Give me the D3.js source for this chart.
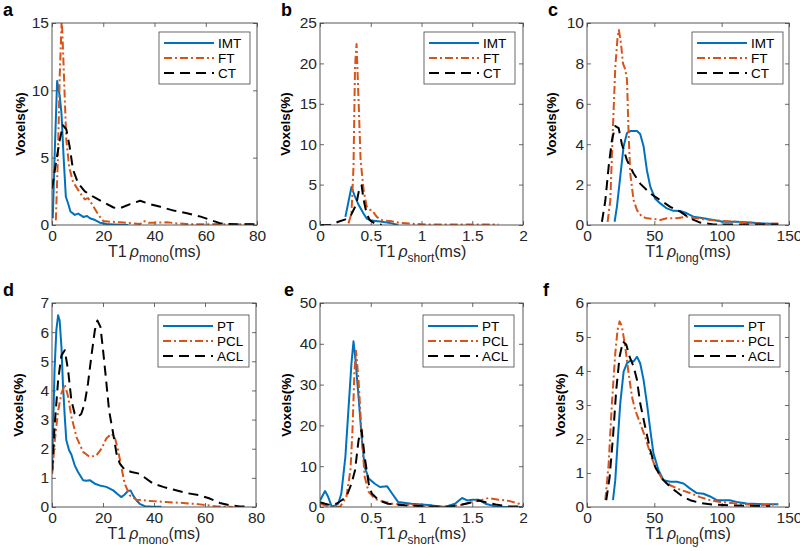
<!DOCTYPE html>
<html><head><meta charset="utf-8">
<script src="https://cdn.jsdelivr.net/npm/d3@7"></script>
<style>
body{margin:0;background:#fff;}
svg{display:block;font-family:"Liberation Sans",Arial,sans-serif;}
</style></head>
<body><svg id="c" width="800" height="551"></svg>
<script>
// ---------------- DATA ----------------
const legendTop = ["IMT", "FT", "CT"];
const legendBottom = ["PT", "PCL", "ACL"];
const xTicksMono = [0, 20, 40, 60, 80];
const xTicksShort = [0, 0.5, 1, 1.5, 2];
const xTicksLong = [0, 50, 100, 150];

// panel a : T1rho mono (IMT / FT / CT)
const aIMT = [[0.3,0.5],[1,5],[2,10.7],[3,9.6],[3.7,8.3],[4.6,4.8],[5.4,2.1],[6.3,1.6],[7.2,1.0],[8.9,0.75],[10.2,0.85],[12.2,0.6],[13.7,0.67],[14.8,0.5],[16.8,0.37],[18.7,0.17],[21.3,0.07],[24,0.04],[29.8,0]];
const aFT = [[1.5,0.35],[2.3,5],[3,11],[3.8,15.3],[4.3,13],[5,9.3],[5.6,6.3],[6.7,4.3],[8.2,3.2],[10.9,2.4],[12.8,1.9],[14.1,2.0],[16.1,1.4],[18.1,0.75],[20,0.3],[22.6,0.25],[26.6,0.2],[31.8,0.12],[34.4,0.07],[35.7,0.3],[37.7,0.17],[41,0.17],[44.9,0.2],[48.8,0.12],[52.7,0.07],[58,0.05],[64.5,0.07],[71,0.05],[79,0.05]];
const aCT = [[0,2.7],[1.7,4.8],[3,6.3],[4.3,7.4],[5.6,7.1],[6.9,5.8],[8.2,4.1],[10.2,3.1],[12.8,2.5],[16.1,2.1],[20,1.7],[24,1.3],[26.6,1.25],[30.5,1.55],[34.4,1.8],[38.3,1.55],[42.3,1.35],[47.5,1.07],[52.7,0.87],[58,0.62],[61.9,0.37],[65.8,0.12],[71,0.05],[79,0.05]];

// panel b : T1rho short
const bIMT = [[0.25,1.0],[0.31,4.7],[0.345,3.5],[0.38,2.5],[0.43,1.4],[0.46,0.8],[0.51,0.55],[0.61,0.4],[0.71,0.2],[0.77,0]];
const bFT = [[0.28,0.2],[0.31,1.4],[0.33,7.2],[0.345,19.6],[0.36,22.4],[0.38,15.4],[0.40,8],[0.43,4.3],[0.46,2.3],[0.49,1.9],[0.51,1.85],[0.56,1.0],[0.61,0.6],[0.71,0.45],[0.77,0.3],[0.94,0.12],[1.1,0.05],[1.43,0.05],[1.76,0.05]];
const bCT = [[0.01,0],[0.1,0],[0.18,0.4],[0.25,0.7],[0.3,1.1],[0.34,2.1],[0.36,2.7],[0.39,4.7],[0.41,4.9],[0.43,3.1],[0.46,1.4],[0.49,0.6],[0.54,0.2],[0.61,0]];

// panel c : T1rho long
const cIMT = [[20.5,0.16],[22.2,0.9],[24.7,2.4],[27.2,3.9],[29.7,4.55],[32.1,4.65],[37.1,4.65],[39.5,4.5],[42,3.9],[44.5,2.7],[47,1.9],[50.6,1.3],[54.4,1.07],[59.3,0.82],[64.2,0.7],[69.2,0.69],[74.1,0.58],[79,0.41],[86.5,0.33],[93.9,0.25],[101,0.16],[111,0.16],[121,0.12],[131,0.08],[142,0.05]];
const cFT = [[15.3,0.16],[17.3,1.2],[19.3,4.9],[21,7.8],[22.7,9.3],[23.7,9.65],[25.2,9],[26.7,8],[28.4,7.7],[29.7,7.2],[30.9,4.5],[32.1,2.55],[34.6,1.23],[37.1,0.74],[40.8,0.41],[44.5,0.33],[49.4,0.3],[54.4,0.25],[59.3,0.33],[66.7,0.33],[74.1,0.41],[81.5,0.33],[91.4,0.25],[101,0.2],[111,0.16],[121,0.12],[131,0.05],[142,0.08]];
const cCT = [[11.1,0.16],[13.6,1.2],[16.1,2.9],[18.5,4.2],[21,4.9],[23.5,4.8],[25.9,4.0],[29.7,3.2],[34.6,2.55],[39.5,2.05],[47,1.56],[54.4,1.23],[61.8,0.9],[69.2,0.66],[76.6,0.33],[84,0.12],[93.9,0.03],[106,0.02],[131,0.02],[142,0.02]];

// panel d : T1rho mono (PT / PCL / ACL)
const dPT = [[0.1,1.5],[1,4.7],[1.7,6.06],[2.4,6.58],[3,6.4],[3.7,5.5],[4.3,4.2],[5,3.1],[5.6,2.3],[6.7,1.95],[7.6,1.8],[8.9,1.43],[10.2,1.2],[12.2,0.92],[13.5,0.9],[14.8,0.92],[16.8,0.8],[18.7,0.74],[21.3,0.69],[24,0.57],[25.9,0.43],[27.2,0.34],[28.5,0.43],[29.8,0.55],[30.8,0.57],[31.8,0.4],[33.1,0.23],[34.4,0.11],[36.4,0.03],[39.7,0.01],[42.9,0.01]];
const dPCL = [[0.1,1.14],[1,2.2],[2.4,3.3],[3.7,3.9],[5,4.2],[6.3,3.8],[7.6,3.1],[9.6,2.4],[12.2,1.89],[14.8,1.72],[17.4,1.77],[19.4,2.0],[21.3,2.35],[23.3,2.52],[24.6,2.4],[25.9,1.95],[27.2,1.37],[28.5,0.8],[30.5,0.4],[33.1,0.25],[38.3,0.21],[44.9,0.17],[51.4,0.14],[58,0.09],[64.5,0.02],[71,0]];
const dACL = [[0.1,1.26],[1,2.75],[2.4,4.35],[3.7,5.2],[5,5.38],[6.3,4.7],[7.6,3.66],[8.9,3.2],[10.2,3.09],[11.5,3.2],[12.8,3.55],[14.1,4.23],[15.4,5.15],[16.8,6.06],[17.8,6.4],[19,6.18],[20,5.4],[21.1,4.46],[22.4,3.3],[24,2.52],[25.3,1.83],[26.6,1.49],[28.5,1.28],[31.2,1.2],[34.4,1.14],[37,0.97],[39.7,0.8],[43.6,0.69],[47.5,0.6],[52.7,0.48],[58,0.4],[61.9,0.29],[65.8,0.14],[69.6,0.06],[73.7,0.02],[77.6,0.01]];

// panel e : T1rho short (PT / PCL / ACL)
const ePT = [[0,1.6],[0.05,3.9],[0.08,2.5],[0.115,0.15],[0.15,0.4],[0.18,0.8],[0.21,3.3],[0.25,12.3],[0.28,23.8],[0.31,35.2],[0.33,40.6],[0.35,36],[0.38,27],[0.41,17.2],[0.44,9.8],[0.48,7],[0.54,5.7],[0.59,4.9],[0.66,5.1],[0.71,3.3],[0.77,1.2],[0.9,0.8],[1.1,0.4],[1.23,0],[1.33,0.8],[1.4,2.2],[1.45,1.6],[1.5,1.8],[1.56,1.8],[1.63,0.8],[1.73,0.15],[1.83,0],[1.99,0]];
const ePCL = [[0,0.8],[0.05,0.4],[0.115,0],[0.2,0.15],[0.26,2.5],[0.3,9],[0.32,18.9],[0.34,33.6],[0.355,38.3],[0.38,31],[0.41,18],[0.44,7.4],[0.48,3.7],[0.54,2],[0.61,1.4],[0.71,0.8],[0.84,0.6],[1.04,0.3],[1.23,0.1],[1.37,0.4],[1.5,1.2],[1.6,1.8],[1.66,2.2],[1.76,1.8],[1.86,1.5],[1.96,0.8],[2.0,0.3]];
const eACL = [[0,1.2],[0.05,0.8],[0.115,0.4],[0.16,0.8],[0.21,1.6],[0.26,2.5],[0.31,5.7],[0.345,9],[0.38,16.4],[0.41,18.9],[0.44,12.3],[0.48,5.7],[0.51,3.3],[0.58,1.6],[0.67,0.8],[0.84,0.4],[1.04,0.15],[1.23,0],[1.37,0.4],[1.5,1.2],[1.56,1.6],[1.63,1.2],[1.73,0.6],[1.86,0.15],[1.99,0.1]];

// panel f : T1rho long (PT / PCL / ACL)
const fPT = [[19.3,0.2],[21,0.79],[22.7,1.87],[24.7,3.05],[27.2,3.98],[29.7,4.23],[32.1,4.3],[34.6,4.28],[37.1,4.42],[39.5,4.23],[42,3.74],[44.5,3.05],[47,2.26],[49.4,1.57],[53.1,1.08],[56.8,0.79],[61.8,0.74],[66.7,0.74],[71.7,0.69],[76.6,0.54],[81.5,0.41],[86.5,0.39],[91.4,0.31],[96.4,0.2],[101,0.2],[106,0.2],[111,0.15],[118.6,0.1],[131,0.08],[142,0.08]];
const fPCL = [[13.6,0.2],[16.1,1.28],[18.5,3.05],[21,4.52],[22.7,5.21],[24.2,5.46],[25.9,5.31],[28.4,4.72],[30.9,3.93],[33.4,3.24],[35.8,2.85],[39.5,2.46],[43.2,2.06],[47,1.57],[50.6,1.18],[55.6,0.84],[61.8,0.64],[69.2,0.51],[76.6,0.41],[84,0.29],[91.4,0.2],[98.8,0.15],[111,0.1],[126,0.05],[142,0.08]];
const fACL = [[14.3,0.2],[16.8,0.88],[19.3,2.06],[21.7,3.44],[24.2,4.42],[26.7,4.87],[29.2,4.77],[31.6,4.42],[34.6,4.13],[37.1,3.74],[39.5,3.05],[43.2,2.36],[47,1.67],[50.6,1.18],[55.6,0.84],[61.8,0.59],[66.7,0.44],[71.7,0.29],[76.6,0.2],[84,0.12],[93.9,0.07],[106,0.05],[126,0.03],[136,0.02]];

// ---------------- STYLE / LAYOUT ----------------
const styles = [
  {color:"#0072BD", dash:null},
  {color:"#D95319", dash:"8,3,2,3"},
  {color:"#000000", dash:"10,6"}
];
const panels = [
  {id:"a", box:[52,23,257,225], xd:[0,80], yd:[0,15], xt:xTicksMono, yt:[0,5,10,15], sub:"mono", series:[aIMT,aFT,aCT], names:legendTop, leg:[159,32], ylx:21},
  {id:"b", box:[320,23,523,225], xd:[0,2], yd:[0,25], xt:xTicksShort, yt:[0,5,10,15,20,25], sub:"short", series:[bIMT,bFT,bCT], names:legendTop, leg:[424,32], ylx:286},
  {id:"c", box:[587,23,789,225], xd:[0,150], yd:[0,10], xt:xTicksLong, yt:[0,2,4,6,8,10], sub:"long", series:[cIMT,cFT,cCT], names:legendTop, leg:[692,32], ylx:552},
  {id:"d", box:[52,303,256,507], xd:[0,80], yd:[0,7], xt:xTicksMono, yt:[0,1,2,3,4,5,6,7], sub:"mono", series:[dPT,dPCL,dACL], names:legendBottom, leg:[158,315], ylx:19},
  {id:"e", box:[320,303,523,507], xd:[0,2], yd:[0,50], xt:xTicksShort, yt:[0,10,20,30,40,50], sub:"short", series:[ePT,ePCL,eACL], names:legendBottom, leg:[423,315], ylx:287},
  {id:"f", box:[587,303,789,507], xd:[0,150], yd:[0,6], xt:xTicksLong, yt:[0,1,2,3,4,5,6], sub:"long", series:[fPT,fPCL,fACL], names:legendBottom, leg:[689,315], ylx:561}
];
const letterPos = {a:[3,16], b:[281,16], c:[548,16], d:[3,296], e:[284,296], f:[543,296]};

const svg = d3.select("#c");
const axisColor = "#444";

panels.forEach(p => {
  const [L,T,R,B] = p.box;
  const x = d3.scaleLinear().domain(p.xd).range([L,R]);
  const y = d3.scaleLinear().domain(p.yd).range([B,T]);
  const g = svg.append("g");

  g.append("clipPath").attr("id","clip"+p.id).append("rect")
    .attr("x",L).attr("y",T).attr("width",R-L).attr("height",B-T);

  const fmt = d => String(d);
  const ax = (gen, tr) => {
    const a = g.append("g").attr("transform",tr).call(gen);
    a.select(".domain").remove();
    a.selectAll("line").attr("stroke",axisColor).attr("stroke-width",0.8);
    a.selectAll("text").attr("fill","#262626").style("font-size","15.5px").attr("font-family",null);
    a.attr("font-family",null).attr("font-size",null);
    return a;
  };
  ax(d3.axisBottom(x).tickValues(p.xt).tickFormat(fmt).tickSize(-4).tickPadding(5), `translate(0,${B})`);
  ax(d3.axisTop(x).tickValues(p.xt).tickFormat("").tickSize(-4), `translate(0,${T})`);
  ax(d3.axisLeft(y).tickValues(p.yt).tickFormat(fmt).tickSize(-4).tickPadding(3), `translate(${L},0)`);
  ax(d3.axisRight(y).tickValues(p.yt).tickFormat("").tickSize(-4), `translate(${R},0)`);

  const line = d3.line().x(d=>x(d[0])).y(d=>y(d[1]));
  const lg = g.append("g").attr("clip-path",`url(#clip${p.id})`);
  p.series.forEach((s,i) => {
    lg.append("path").datum(s).attr("d",line)
      .attr("fill","none").attr("stroke",styles[i].color).attr("stroke-width",2)
      .attr("stroke-dasharray",styles[i].dash).attr("stroke-linejoin","round");
  });

  g.append("rect").attr("x",L).attr("y",T).attr("width",R-L).attr("height",B-T)
    .attr("fill","none").attr("stroke",axisColor).attr("stroke-width",0.9);

  // legend
  const [lx,ly] = p.leg;
  const lw = 91, lh = 52;
  const leg = g.append("g");
  leg.append("rect").attr("x",lx).attr("y",ly).attr("width",lw).attr("height",lh)
    .attr("fill","#fff").attr("stroke",axisColor).attr("stroke-width",0.8);
  p.names.forEach((n,i) => {
    const yy = ly + 11 + i*15;
    leg.append("line").attr("x1",lx+5).attr("x2",lx+55).attr("y1",yy).attr("y2",yy)
      .attr("stroke",styles[i].color).attr("stroke-width",2).attr("stroke-dasharray",styles[i].dash);
    leg.append("text").attr("x",lx+59).attr("y",yy+5).text(n)
      .attr("fill","#000").style("font-size","13.5px");
  });

  // y label
  g.append("text").attr("transform",`translate(${p.ylx},${(T+B)/2}) rotate(-90)`)
    .attr("text-anchor","middle").attr("dominant-baseline","middle")
    .style("font-size","13.5px").style("font-weight","bold").attr("fill","#000").text("Voxels(%)");

  // x label
  const xl = g.append("text").attr("x",(L+R)/2).attr("y",B+32).attr("text-anchor","middle")
    .style("font-size","16px").attr("fill","#262626");
  xl.append("tspan").text("T1");
  xl.append("tspan").text("ρ").style("font-style","italic").attr("dx",3);
  xl.append("tspan").text(p.sub).style("font-size","12px").attr("dy",5);
  xl.append("tspan").text("(ms)").attr("dy",-5);

  const lp = letterPos[p.id];
  svg.append("text").attr("x",lp[0]).attr("y",lp[1]).text(p.id)
    .style("font-size","18px").style("font-weight","bold").attr("fill","#000");
});
</script></body></html>
